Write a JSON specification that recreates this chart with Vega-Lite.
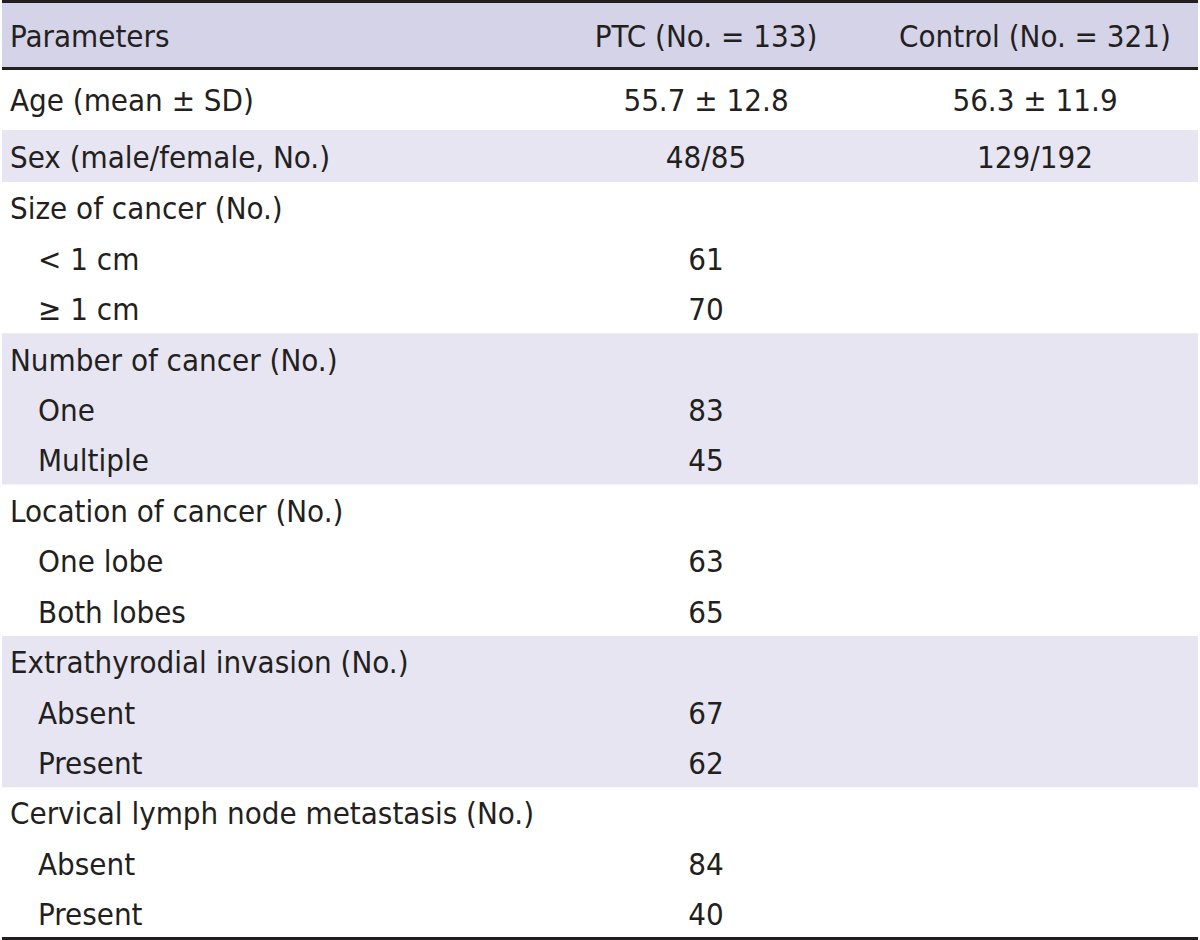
{
  "$schema": "https://vega.github.io/schema/vega-lite/v6.json",
  "width": 1200,
  "height": 940,
  "autosize": {"type": "fit", "contains": "padding"},
  "padding": 0,
  "background": "white",
  "config": {"view": {"stroke": null}, "text": {"font": "'DejaVu Sans Condensed', 'Liberation Sans', sans-serif", "fontSize": 31, "color": "#231f20", "baseline": "middle", "dy": 3}},
  "datasets": {
    "rows": [
      {"row": 0, "level": 0, "label": "Parameters", "ptc": "PTC (No. = 133)", "control": "Control (No. = 321)"},
      {"row": 1, "level": 0, "label": "Age (mean ± SD)", "ptc": "55.7 ± 12.8", "control": "56.3 ± 11.9"},
      {"row": 2, "level": 0, "label": "Sex (male/female, No.)", "ptc": "48/85", "control": "129/192"},
      {"row": 3, "level": 0, "label": "Size of cancer (No.)", "ptc": "", "control": ""},
      {"row": 4, "level": 1, "label": "< 1 cm", "ptc": "61", "control": ""},
      {"row": 5, "level": 1, "label": "≥ 1 cm", "ptc": "70", "control": ""},
      {"row": 6, "level": 0, "label": "Number of cancer (No.)", "ptc": "", "control": ""},
      {"row": 7, "level": 1, "label": "One", "ptc": "83", "control": ""},
      {"row": 8, "level": 1, "label": "Multiple", "ptc": "45", "control": ""},
      {"row": 9, "level": 0, "label": "Location of cancer (No.)", "ptc": "", "control": ""},
      {"row": 10, "level": 1, "label": "One lobe", "ptc": "63", "control": ""},
      {"row": 11, "level": 1, "label": "Both lobes", "ptc": "65", "control": ""},
      {"row": 12, "level": 0, "label": "Extrathyrodial invasion (No.)", "ptc": "", "control": ""},
      {"row": 13, "level": 1, "label": "Absent", "ptc": "67", "control": ""},
      {"row": 14, "level": 1, "label": "Present", "ptc": "62", "control": ""},
      {"row": 15, "level": 0, "label": "Cervical lymph node metastasis (No.)", "ptc": "", "control": ""},
      {"row": 16, "level": 1, "label": "Absent", "ptc": "84", "control": ""},
      {"row": 17, "level": 1, "label": "Present", "ptc": "40", "control": ""}
    ],
    "bands": [
      {"start": -0.5, "end": 0.5, "kind": "header"},
      {"start": 1.5, "end": 2.5, "kind": "group"},
      {"start": 5.5, "end": 8.5, "kind": "group"},
      {"start": 11.5, "end": 14.5, "kind": "group"}
    ],
    "lines": [
      {"at": -0.5},
      {"at": 0.5},
      {"at": 17.5}
    ]
  },
  "layer": [
    {
      "data": {"name": "bands"},
      "mark": {"type": "rect"},
      "encoding": {
        "y": {"field": "start", "type": "quantitative", "scale": {"domain": [-0.5, 0.5, 1.5, 2.5, 17.5], "range": [1.5, 68.5, 130, 182, 938.5], "nice": false, "zero": false}, "axis": null},
        "y2": {"field": "end"},
        "color": {"field": "kind", "type": "nominal", "scale": {"domain": ["header", "group"], "range": ["#d4d3e8", "#e6e5f1"]}, "legend": null}
      }
    },
    {
      "data": {"name": "lines"},
      "mark": {"type": "rule", "color": "#231f20", "strokeWidth": 3},
      "encoding": {
        "y": {"field": "at", "type": "quantitative", "scale": {"domain": [-0.5, 0.5, 1.5, 2.5, 17.5], "range": [1.5, 68.5, 130, 182, 938.5], "nice": false, "zero": false}, "axis": null}
      }
    },
    {
      "data": {"name": "rows"},
      "mark": {"type": "text", "align": "left"},
      "encoding": {
        "y": {"field": "row", "type": "quantitative", "scale": {"domain": [-0.5, 0.5, 1.5, 2.5, 17.5], "range": [1.5, 68.5, 130, 182, 938.5], "nice": false, "zero": false}, "axis": null},
        "x": {"field": "level", "type": "quantitative", "scale": {"domain": [0, 1, 2, 3], "range": [8, 36, 704, 1033], "nice": false, "zero": false}, "axis": null},
        "text": {"field": "label"}
      }
    },
    {
      "data": {"name": "rows"},
      "mark": {"type": "text", "align": "center"},
      "encoding": {
        "y": {"field": "row", "type": "quantitative", "scale": {"domain": [-0.5, 0.5, 1.5, 2.5, 17.5], "range": [1.5, 68.5, 130, 182, 938.5], "nice": false, "zero": false}, "axis": null},
        "x": {"datum": 2, "type": "quantitative", "scale": {"domain": [0, 1, 2, 3], "range": [8, 36, 704, 1033], "nice": false, "zero": false}, "axis": null},
        "text": {"field": "ptc"}
      }
    },
    {
      "data": {"name": "rows"},
      "mark": {"type": "text", "align": "center"},
      "encoding": {
        "y": {"field": "row", "type": "quantitative", "scale": {"domain": [-0.5, 0.5, 1.5, 2.5, 17.5], "range": [1.5, 68.5, 130, 182, 938.5], "nice": false, "zero": false}, "axis": null},
        "x": {"datum": 3, "type": "quantitative", "scale": {"domain": [0, 1, 2, 3], "range": [8, 36, 704, 1033], "nice": false, "zero": false}, "axis": null},
        "text": {"field": "control"}
      }
    }
  ]
}
